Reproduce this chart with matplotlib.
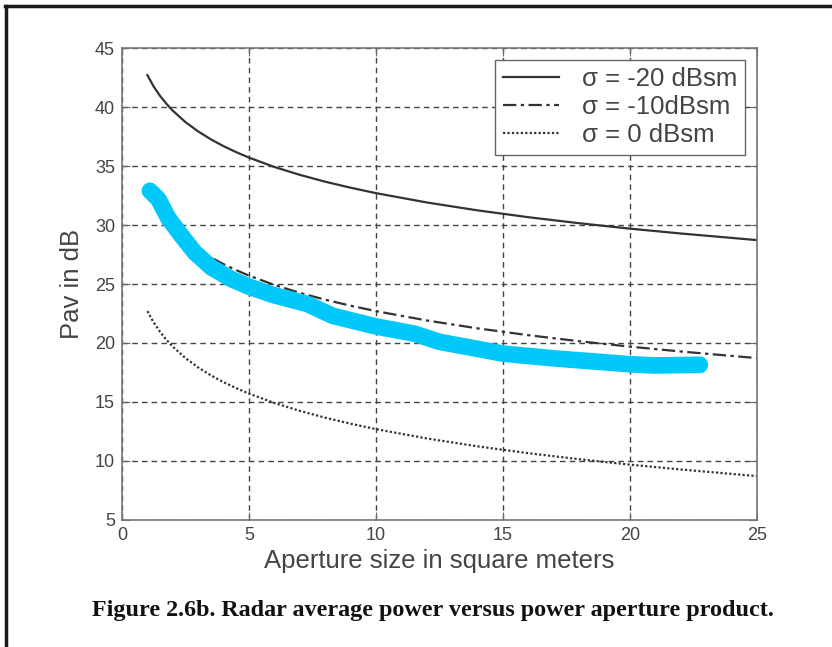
#!/usr/bin/env python
# Radar average power vs aperture size, with the hand-drawn cyan trace on top

import numpy as np
import matplotlib.pyplot as plt
from matplotlib.lines import Line2D

# aperture sizes (m^2) and Pav (dB)
aperture = [1, 1.25, 1.5, 1.75, 2, 2.5, 3, 3.5, 4, 4.5, 5, 6, 7, 8, 9, 10,
            12, 14, 16, 18, 20, 22, 25]
pav_m20 = [42.70, 41.73, 40.94, 40.27, 39.69, 38.72, 37.93, 37.26, 36.68,
           36.17, 35.71, 34.92, 34.25, 33.67, 33.16, 32.70, 31.91, 31.24,
           30.66, 30.15, 29.69, 29.28, 28.72]
pav_0 = [22.70, 21.73, 20.94, 20.27, 19.69, 18.72, 17.93, 17.26, 16.68,
         16.17, 15.71, 14.92, 14.25, 13.67, 13.16, 12.70, 11.91, 11.24,
         10.66, 10.15, 9.69, 9.28, 8.72]
# the -10 dBsm curve only shows from under the cyan trace at about 3.6
aperture_m10 = [3.6, 4, 4.5, 5, 6, 7, 8, 9, 10, 12, 14, 16, 18, 20, 22, 25]
pav_m10 = [27.14, 26.68, 26.17, 25.71, 24.92, 24.25, 23.67, 23.16, 22.70,
           21.91, 21.24, 20.66, 20.15, 19.69, 19.28, 18.72]

# the thick cyan scribble
cyan_x = [1.1, 1.43, 1.82, 2.35, 2.87, 3.53, 4.32, 4.97, 5.9, 7.3, 8.3, 10.0,
          11.5, 12.5, 13.0, 15.0, 17.0, 18.5, 20.0, 20.9, 22.75]
cyan_y = [32.9, 32.2, 30.6, 29.07, 27.66, 26.39, 25.4, 24.8, 24.1, 23.3, 22.3,
          21.4, 20.8, 20.1, 19.9, 19.1, 18.7, 18.45, 18.2, 18.1, 18.15]

labels = ['\u03c3 = -20 dBsm', '\u03c3 = -10dBsm', '\u03c3 = 0 dBsm']

plt.rcParams['font.family'] = ['Liberation Sans', 'DejaVu Sans']

fig = plt.figure(figsize=(8.32, 6.47), dpi=100)
ax = fig.add_axes([0.1466, 0.1963, 0.7633, 0.7295])

dark = '#333333'
ax.plot(aperture, pav_m20, color=dark, lw=1.6, ls='-', label=labels[0])
ax.plot(aperture_m10, pav_m10, color=dark, lw=1.6, ls=(0, (6, 2, 1.5, 2)), label=labels[1])
ax.plot(aperture, pav_0, color=dark, lw=1.6, ls=(0, (1, 1)), label=labels[2])
ax.plot(cyan_x, cyan_y, color='#00c8f8', lw=12, solid_capstyle='round',
        solid_joinstyle='round')

ax.set_xlim(0, 25)
ax.set_ylim(5, 45)
ax.set_xticks(np.arange(0, 26, 5))
ax.set_yticks(np.arange(5, 46, 5))
ax.grid(True, ls=(0, (4, 3)), color='#444444', lw=1.0)
ax.tick_params(direction='in', length=6, colors='#666666', labelcolor='#444444',
               labelsize=13, top=True, right=True, pad=5)
for s in ax.spines.values():
    s.set_color('#777777')
    s.set_linewidth(1.2)

ax.set_xlabel('Aperture size in square meters', fontsize=18.5, color='#444444', labelpad=4)
ax.set_ylabel('Pav in dB', fontsize=18.5, color='#444444', labelpad=8)

leg = ax.legend(loc='upper right', fontsize=18.5, handlelength=2.2, frameon=True,
                fancybox=False, framealpha=1, borderaxespad=0.45, labelspacing=0.15,
                handletextpad=0.9, borderpad=0.3)
leg.get_frame().set_edgecolor('#666666')
leg.get_frame().set_linewidth(1.0)
for t in leg.get_texts():
    t.set_color('#444444')

fig.text(0.52, 0.057, 'Figure 2.6b. Radar average power versus power aperture product.',
         ha='center', va='center', fontsize=17.4, fontweight='bold',
         family='Liberation Serif', color='#111111')

# page border, left and top only
fig.add_artist(Line2D([0.0072, 0.0072], [0, 0.9907], color='#1a1a1a', lw=2.5,
                      transform=fig.transFigure))
fig.add_artist(Line2D([0.006, 1.0], [0.9907, 0.9907], color='#1a1a1a', lw=2.5,
                      transform=fig.transFigure))

plt.savefig('out.png', dpi=100)
